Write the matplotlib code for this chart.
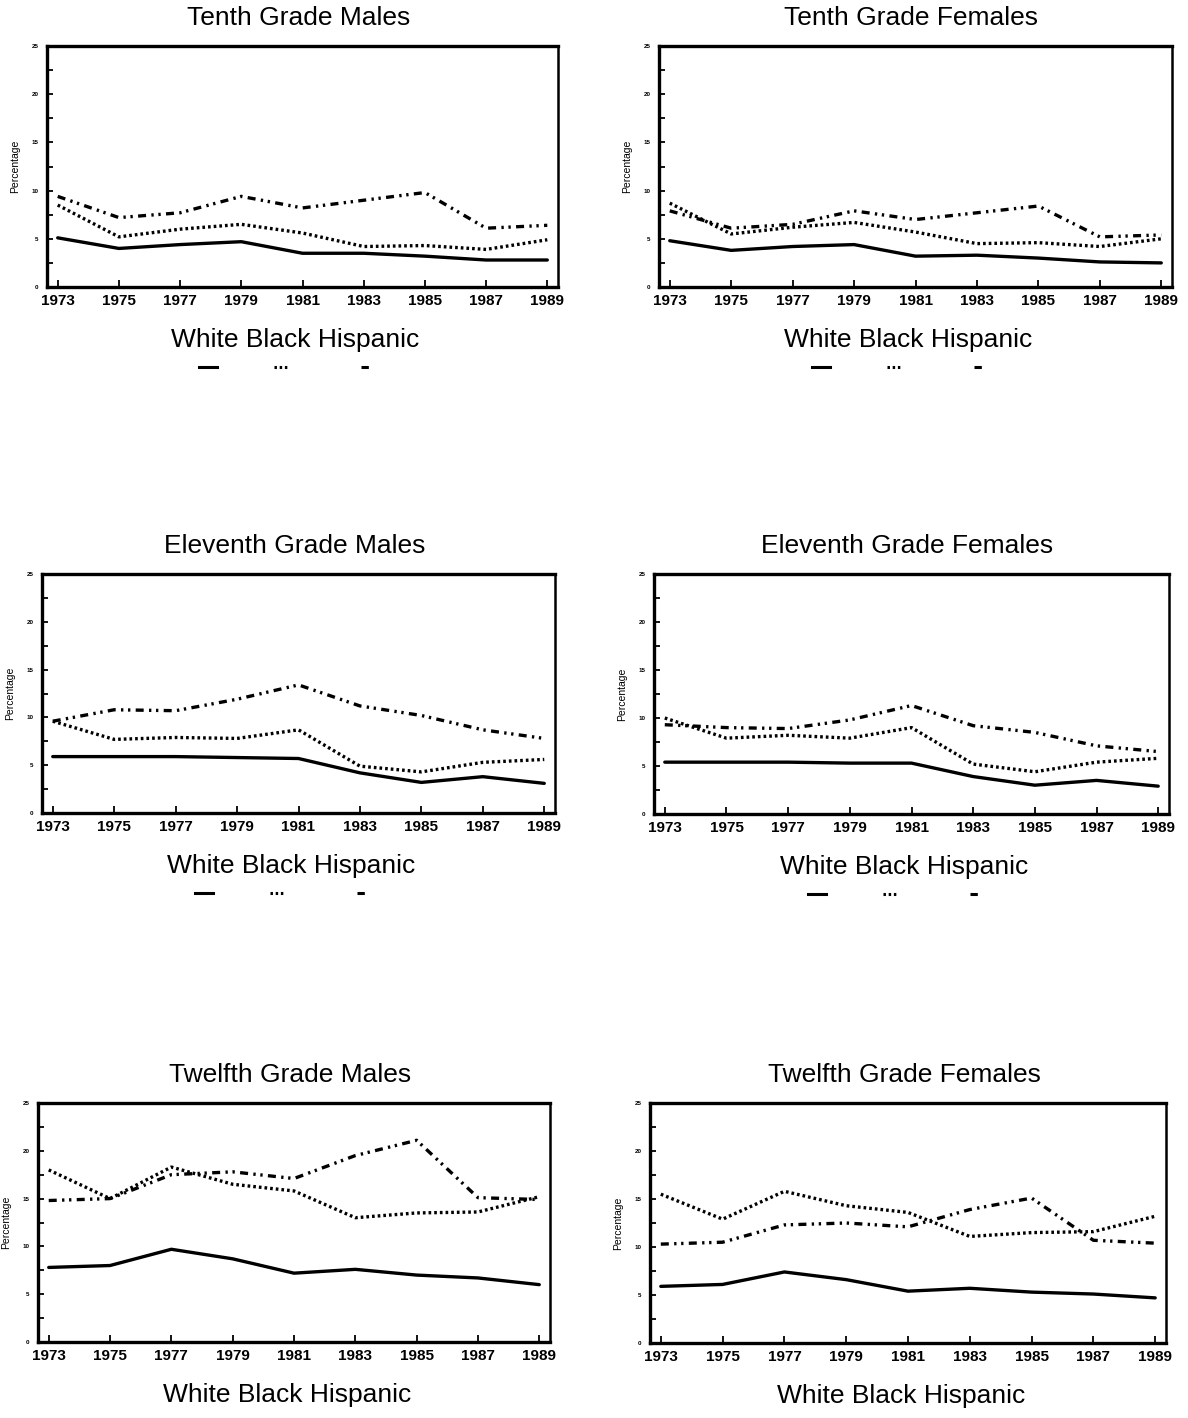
import matplotlib
matplotlib.use('Agg')
import matplotlib.pyplot as plt
from matplotlib.lines import Line2D
from matplotlib.ticker import MultipleLocator

plt.rcParams['font.family'] = ['Liberation Sans', 'DejaVu Sans']

years = [1973, 1975, 1977, 1979, 1981, 1983, 1985, 1987, 1989]
titles = ['Tenth Grade Males', 'Tenth Grade Females',
          'Eleventh Grade Males', 'Eleventh Grade Females',
          'Twelfth Grade Males', 'Twelfth Grade Females']
groups = ['White', 'Black', 'Hispanic']

# percentages by grade / sex
white_10m = [5.1, 4.0, 4.4, 4.7, 3.5, 3.5, 3.2, 2.8, 2.8]
black_10m = [8.5, 5.2, 6.0, 6.5, 5.6, 4.2, 4.3, 3.9, 4.9]
hisp_10m = [9.4, 7.2, 7.7, 9.4, 8.2, 9.0, 9.8, 6.1, 6.4]

white_10f = [4.8, 3.8, 4.2, 4.4, 3.2, 3.3, 3.0, 2.6, 2.5]
black_10f = [8.7, 5.5, 6.2, 6.7, 5.7, 4.5, 4.6, 4.2, 5.0]
hisp_10f = [7.9, 6.1, 6.5, 7.9, 7.0, 7.7, 8.4, 5.2, 5.4]

white_11m = [5.9, 5.9, 5.9, 5.8, 5.7, 4.2, 3.2, 3.8, 3.1]
black_11m = [9.6, 7.7, 7.9, 7.8, 8.7, 4.9, 4.3, 5.3, 5.6]
hisp_11m = [9.6, 10.8, 10.7, 11.9, 13.4, 11.2, 10.2, 8.7, 7.8]

white_11f = [5.4, 5.4, 5.4, 5.3, 5.3, 3.9, 3.0, 3.5, 2.9]
black_11f = [10.0, 7.9, 8.2, 7.9, 9.0, 5.2, 4.4, 5.4, 5.8]
hisp_11f = [9.3, 9.0, 8.9, 9.8, 11.3, 9.2, 8.5, 7.1, 6.5]

white_12m = [7.8, 8.0, 9.7, 8.7, 7.2, 7.6, 7.0, 6.7, 6.0]
black_12m = [18.0, 15.0, 18.3, 16.5, 15.8, 13.0, 13.5, 13.6, 15.2]
hisp_12m = [14.8, 15.0, 17.5, 17.8, 17.1, 19.5, 21.1, 15.1, 14.9]

white_12f = [5.9, 6.1, 7.4, 6.6, 5.4, 5.7, 5.3, 5.1, 4.7]
black_12f = [15.5, 12.9, 15.8, 14.3, 13.6, 11.1, 11.5, 11.6, 13.2]
hisp_12f = [10.3, 10.5, 12.3, 12.5, 12.1, 13.9, 15.1, 10.7, 10.4]

panels = [(white_10m, black_10m, hisp_10m), (white_10f, black_10f, hisp_10f),
          (white_11m, black_11m, hisp_11m), (white_11f, black_11f, hisp_11f),
          (white_12m, black_12m, hisp_12m), (white_12f, black_12f, hisp_12f)]

W, H = 1188, 1418
# axes boxes in pixels: left, right, top, bottom
boxes = [(47, 558, 46, 287), (659, 1172, 46, 287),
         (42, 555, 574, 813), (654, 1169, 574, 814),
         (38, 550, 1103, 1342), (650, 1166, 1103, 1343)]

dotted = (0, (0.8, 0.9))
dashdotdot = (0, (2.4, 1.6, 0.7, 1.4, 0.7, 1.6))
styles = ['-', dotted, dashdotdot]

fig = plt.figure(figsize=(W / 100, H / 100), dpi=100)

for (l, r, t, b), title, series in zip(boxes, titles, panels):
    ax = fig.add_axes([l / W, 1 - b / H, (r - l) / W, (b - t) / H])
    for vals, ls in zip(series, styles):
        ax.plot(years, vals, color='black', lw=2.4, ls=ls,
                solid_capstyle='round', dash_capstyle='butt')
    ax.set_xlim(1972.65, 1989.35)
    ax.set_ylim(0, 25)
    ax.set_xticks(years)
    ax.set_xticklabels([str(y) for y in years], fontsize=11, fontweight='bold')
    ax.yaxis.set_major_locator(MultipleLocator(5))
    ax.yaxis.set_minor_locator(MultipleLocator(2.5))
    ax.tick_params(axis='x', direction='in', length=5, width=1.3, pad=5)
    ax.tick_params(axis='y', which='both', direction='in', length=4, width=1.3,
                   labelsize=4.5, pad=6)
    for lab in ax.get_yticklabels():
        lab.set_fontweight('bold')
    for s in ax.spines.values():
        s.set_linewidth(2.4)
    ax.spines['right'].set_linewidth(1.8)
    ax.set_ylabel('Percentage', fontsize=7.5, labelpad=8)

    cx = (l + r) / 2
    fig.text((cx - 4) / W, 1 - (t - 28) / H, title, fontsize=19,
             ha='center', va='center')
    fig.text((cx - 7) / W, 1 - (b + 53) / H, 'White Black Hispanic',
             fontsize=19, ha='center', va='center')
    # little line samples under the key words
    sy = 1 - (b + 80) / H
    for dx, half, ls in [(-95, 9, '-'), (-22, 7, dotted), (64, 6, dashdotdot)]:
        fig.add_artist(Line2D([(cx + dx - half) / W, (cx + dx + half) / W],
                              [sy, sy], color='black', lw=2.2, ls=ls,
                              dash_capstyle='butt',
                              transform=fig.transFigure))

fig.savefig('out.png', dpi=100, facecolor='white')
